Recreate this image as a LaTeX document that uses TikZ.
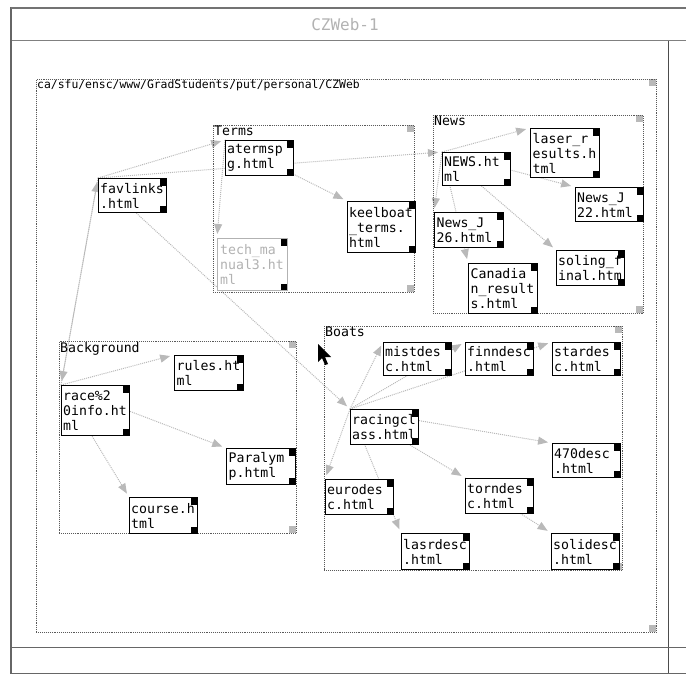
\documentclass[tikz,border=0pt]{standalone}
\usepackage{fontspec}
\usepackage{tikz}
\usetikzlibrary{arrows.meta,positioning,backgrounds}
\newfontfamily\monaco{DejaVu Sans Mono}
\newcommand{\pagefont}{\monaco\fontsize{13.2pt}{15pt}\selectfont}
\newcommand{\pathfont}{\monaco\fontsize{11.4pt}{14pt}\selectfont}

\begin{document}
\begin{tikzpicture}[
  x=1pt, y=-1pt,
  every node/.style={font=\pagefont},
  page/.style={draw, line width=1.4pt, fill=white, anchor=north west,
    minimum width=68pt, minimum height=34pt, inner sep=1.5pt,
    text width=65pt, align=left,
    path picture={
      \fill[black] (path picture bounding box.north east) rectangle +(-7pt,-7pt);
      \fill[black] (path picture bounding box.south east) rectangle +(-7pt,7pt);}},
  group/.style={draw=black!65, densely dotted, line width=0.9pt,
    anchor=north west, inner sep=0pt,
    path picture={
      \fill[gray!55] (path picture bounding box.north east) rectangle +(-7pt,-7pt);
      \fill[gray!55] (path picture bounding box.south east) rectangle +(-7pt,7pt);}},
  grouplabel/.style={anchor=north west, inner sep=1pt},
  link/.style={draw=gray!55, densely dotted, line width=1pt,
    -{Triangle[length=10pt,width=8pt]}, shorten >=4pt},
]
\useasboundingbox (0,0) rectangle (686,674);

% window
\draw[black!60, line width=2.5pt] (11,7) -- (11,674);
\draw[black!55, line width=1.2pt] (11,8) -- (686,8);
\draw[black!50, line width=1pt] (12,41) -- (686,41);
\draw[black!70, line width=0.8pt] (668,41) -- (668,674);
\draw[black!60, line width=1pt] (12,647) -- (686,647);
\draw[black!60, line width=1pt] (12,673) -- (686,673);
\node[font={\monaco\fontsize{16pt}{18pt}\selectfont}, text=gray!60] (title) at (345,25) {CZWeb-1};

% groups
\node[group, minimum width=620pt, minimum height=553pt,
  label={[grouplabel, font=\pathfont]north west:ca/sfu/ensc/www/GradStudents/put/personal/CZWeb}] (czweb) at (36,79) {};
\node[group, minimum width=201pt, minimum height=167pt,
  label={[grouplabel]north west:Terms}] (terms) at (213,125) {};
\node[group, minimum width=210pt, minimum height=198pt,
  label={[grouplabel]north west:News}] (newsdir) at (433,115) {};
\node[group, minimum width=237pt, minimum height=192pt,
  label={[grouplabel]north west:Background}] (backdir) at (59,341) {};
\node[group, minimum width=298pt, minimum height=244pt,
  label={[grouplabel]north west:Boats}] (boatsdir) at (324,326) {};

% pages
\node[page] (favlinks) at (98,178) {favlinks\\.html};
\node[page, minimum height=35pt] (aterms) at (225,140) {atermsp\\g.html};
\node[page, minimum height=51pt] (keelboat) at (347,201) {keelboat\\\_terms.\\html};
\node[page, draw=gray!60, text=gray!60, minimum width=70pt, minimum height=52pt] (techman) at (217,238) {tech\_ma\\nual3.ht\\ml};

\node[page, minimum height=33pt] (news) at (442,152) {NEWS.ht\\ml};
\node[page, minimum width=69pt, minimum height=49pt] (laser) at (530,128) {laser\_r\\esults.h\\tml};
\node[page] (newsa) at (575,187) {News\_J\\22.html};
\node[page, minimum width=69pt, minimum height=35pt] (newsb) at (434,212) {News\_J\\26.html};
\node[page, minimum height=35pt] (soling) at (556,250) {soling\_f\\inal.htm};
\node[page, minimum width=69pt, minimum height=50pt] (canadian) at (468,263) {Canadia\\n\_result\\s.html};

\node[page, minimum height=50pt] (race) at (61,385) {race\%2\\0info.ht\\ml};
\node[page, minimum width=69pt, minimum height=35pt] (rules) at (174,355) {rules.ht\\ml};
\node[page, minimum width=69pt, minimum height=36pt] (paralymp) at (226,448) {Paralym\\p.html};
\node[page, minimum height=36pt] (course) at (129,497) {course.h\\tml};

\node[page, minimum height=33pt] (mist) at (383,342) {mistdes\\c.html};
\node[page, minimum height=33pt] (finn) at (465,342) {finndesc\\.html};
\node[page, minimum height=33pt] (star) at (552,342) {stardes\\c.html};
\node[page, minimum height=35pt] (racing) at (350,409) {racingcl\\ass.html};
\node[page] (desca) at (552,443) {470desc\\.html};
\node[page, minimum height=35pt] (euro) at (325,479) {eurodes\\c.html};
\node[page, minimum height=35pt] (torn) at (465,478) {torndes\\c.html};
\node[page, minimum height=36pt] (lasr) at (401,533) {lasrdesc\\.html};
\node[page, minimum height=36pt] (soli) at (551,533) {solidesc\\.html};

% links
\begin{scope}[on background layer]
\draw[link] (favlinks.north west) -- (aterms.north west);
\draw[link] (favlinks.north west) -- (news.north west);
\draw[link] (favlinks.north west) -- (racing.north west);
\draw[link] (favlinks.north west) -- (race.north west);
\draw[link] (race.north west) -- (favlinks.north west);
\draw[link] (aterms.north west) -- (keelboat.north west);
\draw[link] (aterms.north west) -- (techman.north west);
\draw[link] (news.north west) -- (laser.north west);
\draw[link] (news.north west) -- (newsa.north west);
\draw[link] (news.north west) -- (newsb.north west);
\draw[link] (news.north west) -- (canadian.north west);
\draw[link] (news.north west) -- (soling.north west);
\draw[link] (race.north west) -- (rules.north west);
\draw[link] (race.north west) -- (paralymp.north west);
\draw[link] (race.north west) -- (course.north west);
\draw[link] (racing.north west) -- (mist.north west);
\draw[link] (racing.north west) -- (finn.north west);
\draw[link] (racing.north west) -- (star.north west);
\draw[link] (racing.north west) -- (desca.north west);
\draw[link] (racing.north west) -- (torn.north west);
\draw[link] (racing.north west) -- (euro.north west);
\draw[link] (racing.north west) -- (lasr.north west);
\draw[link] (torn.north west) -- (soli.north west);
\end{scope}

% pointer
\fill[black] (318,344) -- ++(0,18) -- ++(4,-4) -- ++(3,7) -- ++(3,-1)
  -- ++(-3,-7) -- ++(6,0) -- cycle;
\end{tikzpicture}
\end{document}
